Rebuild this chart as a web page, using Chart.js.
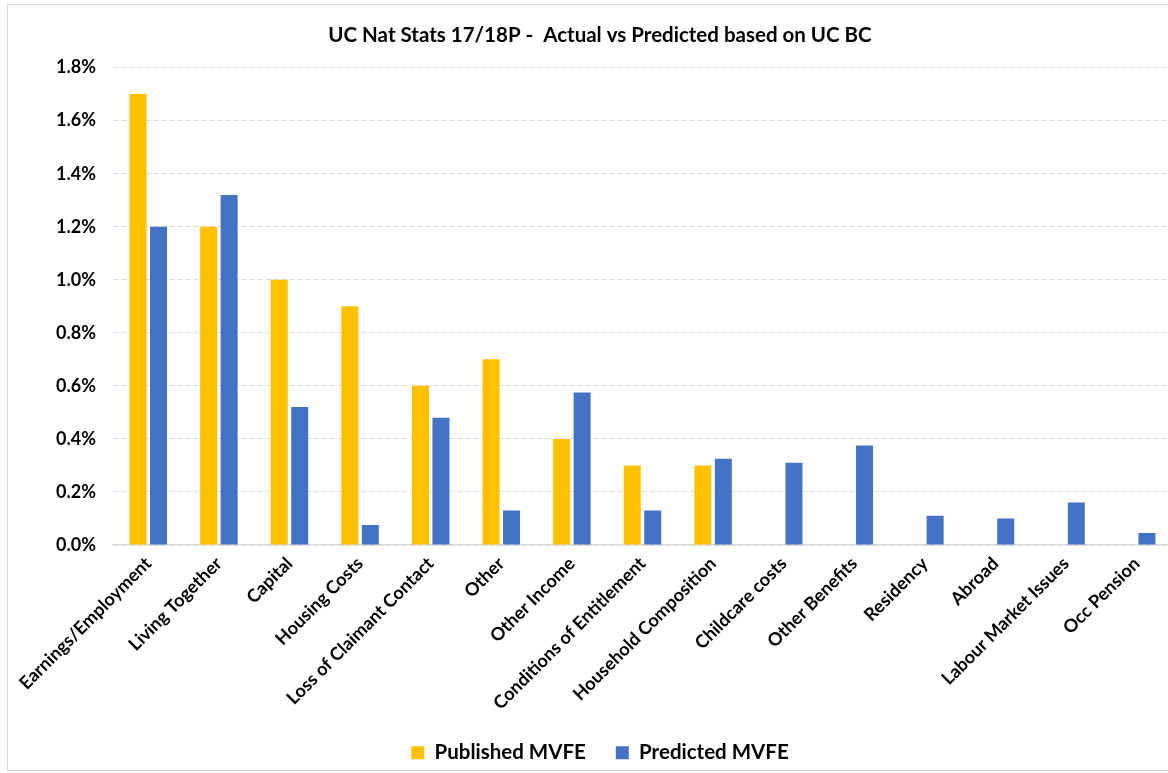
<!DOCTYPE html>
<html>
<head>
<meta charset="utf-8">
<script src="https://cdn.jsdelivr.net/npm/chart.js@4.4.1/dist/chart.umd.min.js"></script>
<style>
  html, body { margin: 0; padding: 0; background: #fff; overflow: hidden; }
  #frame {
    position: absolute; left: 7px; top: 4px;
    width: 1186px; height: 765px;
    border: 1px solid #d9d9d9;
  }
  #chart { display: block; }
</style>
</head>
<body>
<div id="frame"><canvas id="chart" width="1186" height="765"></canvas></div>
<script>
// категории и значения (в процентах)
const categories = [
  'Earnings/Employment', 'Living Together', 'Capital', 'Housing Costs',
  'Loss of Claimant Contact', 'Other', 'Other Income', 'Conditions of Entitlement',
  'Household Composition', 'Childcare costs', 'Other Benefits', 'Residency',
  'Abroad', 'Labour Market Issues', 'Occ Pension'
];
const published = [1.7, 1.2, 1.0, 0.9, 0.6, 0.7, 0.4, 0.3, 0.3, null, null, null, null, null, null];
const predicted = [1.2, 1.32, 0.52, 0.075, 0.48, 0.13, 0.575, 0.13, 0.325, 0.31, 0.375, 0.11, 0.1, 0.16, 0.045];
const yTicks = [0, 0.2, 0.4, 0.6, 0.8, 1.0, 1.2, 1.4, 1.6, 1.8];

const FONT = 'Lato, "Open Sans", sans-serif';
const PLOT_BOTTOM = 540; // низ области графика в координатах canvas

new Chart(document.getElementById('chart').getContext('2d'), {
  type: 'bar',
  data: {
    labels: categories,
    datasets: [
      {
        label: 'Published MVFE',
        data: published,
        backgroundColor: '#FFC000',
        categoryPercentage: 0.58,
        barPercentage: 0.83
      },
      {
        label: 'Predicted MVFE',
        data: predicted,
        backgroundColor: '#4472C4',
        categoryPercentage: 0.58,
        barPercentage: 0.83
      }
    ]
  },
  options: {
    responsive: false,
    animation: false,
    layout: { padding: { left: 20, right: 22, top: 0, bottom: -3 } },
    plugins: {
      title: {
        display: true,
        text: 'UC Nat Stats 17/18P -  Actual vs Predicted based on UC BC',
        color: '#000',
        font: { family: FONT, size: 20.5, weight: 'bold' },
        padding: { top: 18, bottom: 20 }
      },
      legend: {
        position: 'bottom',
        labels: {
          color: '#000',
          boxWidth: 13,
          boxHeight: 13,
          padding: 30,
          font: { family: FONT, size: 20.5, weight: 'bold' }
        }
      },
      tooltip: { enabled: false }
    },
    scales: {
      x: {
        grid: { display: false, drawTicks: false },
        border: { color: '#d9d9d9', width: 1.5 },
        ticks: {
          color: '#000',
          minRotation: 45,
          maxRotation: 45,
          padding: 8,
          font: { family: FONT, size: 18, weight: 'bold' }
        },
        afterFit: (scale) => {
          const c = scale.chart;
          const lh = c.legend ? c.legend.height : 40;
          scale.height = c.height - PLOT_BOTTOM - lh + 3;
        }
      },
      y: {
        min: 0,
        max: 1.8,
        afterBuildTicks: (scale) => {
          scale.ticks = yTicks.map(v => ({ value: v }));
        },
        grid: {
          color: '#d9d9d9',
          lineWidth: 1,
          drawTicks: false
        },
        border: { display: true, color: 'rgba(0,0,0,0)', dash: [5, 3] },
        ticks: {
          color: '#000',
          padding: 17,
          font: { family: FONT, size: 18, weight: 'bold' },
          callback: (v) => Number(v).toFixed(1) + '%'
        },
        afterFit: (scale) => { scale.width = 85; }
      }
    }
  }
});
</script>
</body>
</html>
